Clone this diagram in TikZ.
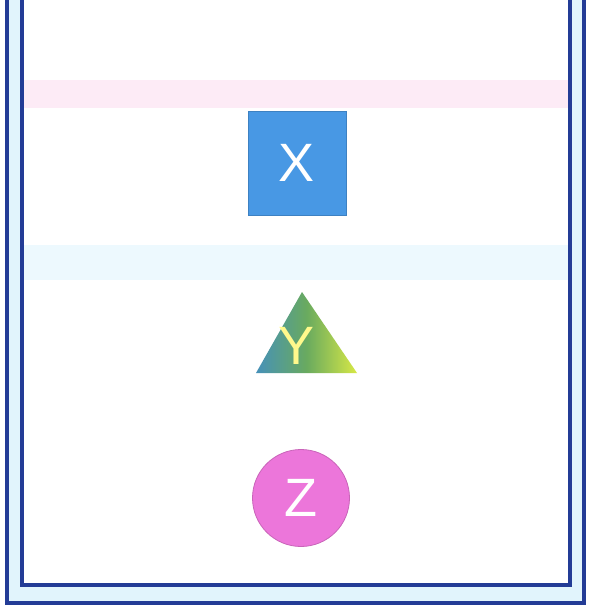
\documentclass[tikz,border=0pt]{standalone}
\usepackage{fontspec}
\setsansfont{Liberation Sans}
\usepackage{tikz}
\usetikzlibrary{positioning,calc}
\definecolor{wallblue}{RGB}{35,60,150}
\definecolor{wallfill}{RGB}{225,244,252}
\definecolor{sqblue}{RGB}{72,152,228}
\definecolor{circpink}{RGB}{236,118,218}
\definecolor{trileft}{RGB}{70,145,185}
\definecolor{trimid}{RGB}{105,170,95}
\definecolor{triright}{RGB}{215,232,70}

\begin{document}
\begin{tikzpicture}[
    x=1pt, y=-1pt,
    wall/.style={draw=wallblue, line width=3.2pt},
    shapelabel/.style={text=white, font=\sffamily\fontsize{54}{54}\selectfont},
    sqbox/.style={rectangle, draw=sqblue!85!black, fill=sqblue, minimum width=98pt, minimum height=104pt, line width=0.8pt},
    disc/.style={circle, draw=circpink!85!black, fill=circpink, minimum size=97pt, line width=0.8pt, inner sep=0pt}
]
    \useasboundingbox (0,0) rectangle (590,609);
    \fill[white] (0,0) rectangle (590,609);

    % faint bands inside
    \fill[magenta!8] (22,80) rectangle (570,108);
    \fill[cyan!7] (22,245) rectangle (570,280);

    % container walls
    \fill[wallfill] (7,0) -- (7,603) -- (584,603) -- (584,0) -- (570,0) -- (570,585) -- (22,585) -- (22,0) -- cycle;
    \draw[wall] (7,0) -- (7,603) -- (584,603) -- (584,0);
    \draw[wall] (22,0) -- (22,585) -- (570,585) -- (570,0);

    % X
    \node[sqbox] (sqX) at (297,163) {};
    \node[shapelabel] (labX) at (sqX.center) {X};

    % Y
    \coordinate (triTop) at (302,292);
    \coordinate (triL) at (256,373);
    \coordinate (triR) at (357,373);
    \shade[left color=trileft, right color=triright, middle color=trimid] (triTop) -- (triR) -- (triL) -- cycle;
    \node[shapelabel, text=yellow!45] (labY) at (297,346) {Y};

    % Z
    \node[disc] (discZ) at (301,498) {};
    \node[shapelabel] (labZ) at (discZ.center) {Z};
\end{tikzpicture}
\end{document}
